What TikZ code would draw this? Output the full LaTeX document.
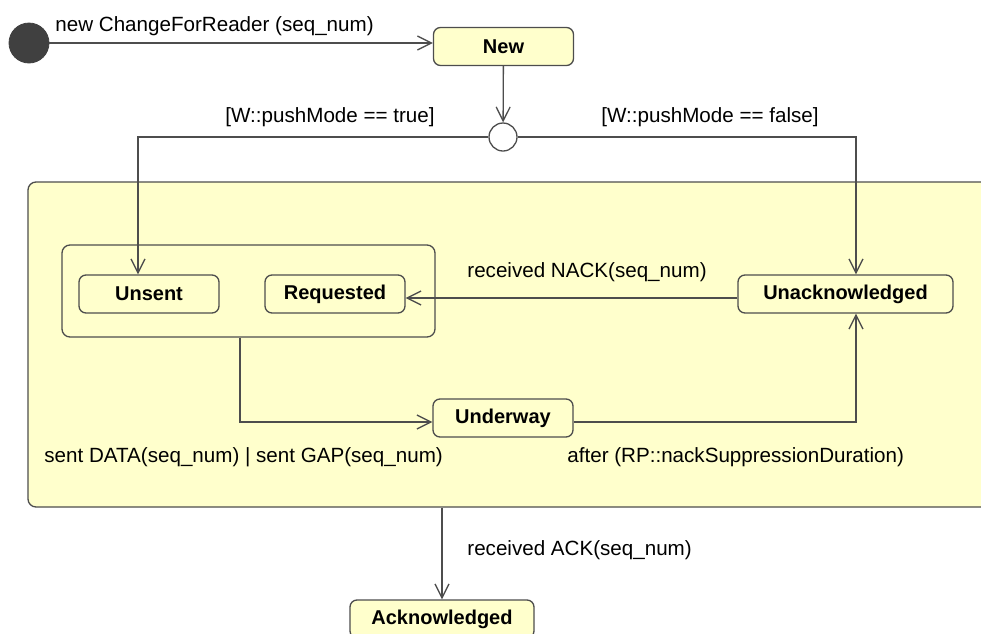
\documentclass[tikz,border=0pt]{standalone}
\usepackage{fontspec}
\setmainfont{Liberation Sans}
\usepackage{xcolor}
\definecolor{statefill}{RGB}{255,255,204}
\definecolor{edgegray}{RGB}{77,77,77}
\definecolor{initgray}{RGB}{64,64,64}
\usetikzlibrary{arrows.meta}
\tikzset{
  state/.style={draw=edgegray, line width=0.65pt, fill=statefill, rounded corners=3.5pt,
    minimum width=70pt, minimum height=19pt, inner sep=0pt, font=\bfseries},
  region/.style={draw=edgegray, line width=0.65pt, fill=statefill, rounded corners=4pt, inner sep=0pt},
  initial/.style={circle, draw=initgray, fill=initgray, minimum size=20pt, inner sep=0pt},
  choice/.style={circle, draw=edgegray, line width=0.65pt, fill=white, minimum size=14pt, inner sep=0pt},
  trans/.style={draw=edgegray, line width=0.65pt, -{Straight Barb[length=7pt,width=7pt]}},
  trigger/.style={inner sep=0pt}
}

\begin{document}
\begin{tikzpicture}[x=0.5pt, y=-0.5pt, font=\fontsize{10.3}{12}\selectfont]
    \clip (0,0) rectangle (981,633);
    % composite states
    \node[region, minimum width=491pt, minimum height=162.5pt] (active) at (519,344.5) {};
    \node[region, minimum width=186.5pt, minimum height=46pt] (queued) at (248.5,291) {};
    % states
    \node[initial] (init) at (29,43) {};
    \node[state] (new) at (503.5,46.5) {New};
    \node[choice] (pushmode) at (503,137) {};
    \node[state] (unsent) at (149,294) {Unsent};
    \node[state] (requested) at (335,294) {Requested};
    \node[state, minimum width=107.5pt] (unack) at (845.5,294) {Unacknowledged};
    \node[state] (underway) at (503,418) {Underway};
    \node[state, minimum width=92pt] (acked) at (442,619) {Acknowledged};
    % transitions
    \draw[trans] (init) -- (init -| new.west);
    \draw[trans] (new) -- (pushmode);
    \draw[trans] (pushmode.west) -| ([xshift=-5.5pt]unsent.north);
    \draw[trans] (pushmode.east) -| ([xshift=5.25pt]unack.north);
    \draw[trans] ([yshift=-2pt]unack.west) -- ([yshift=-2pt]requested.east);
    \draw[trans] ([xshift=-4.25pt]queued.south) |- ([yshift=-2pt]underway.west);
    \draw[trans] ([yshift=-2pt]underway.east) -| ([xshift=5.25pt]unack.south);
    \draw[trans] (active.south -| acked.north) -- (acked.north);
    % triggers and guards
    \node[trigger, anchor=base west] (lnew) at (55,31) {new ChangeForReader (seq\_num)};
    \node[trigger, anchor=base east] (ltrue) at (435,122) {[W::pushMode == true]};
    \node[trigger, anchor=base west] (lfalse) at (601,122) {[W::pushMode == false]};
    \node[trigger, anchor=base west] (lnack) at (467,277) {received NACK(seq\_num)};
    \node[trigger, anchor=base west] (lsent) at (44,462) {sent DATA(seq\_num) | sent GAP(seq\_num)};
    \node[trigger, anchor=base west] (lafter) at (567,462) {after (RP::nackSuppressionDuration)};
    \node[trigger, anchor=base west] (lack) at (467,555) {received ACK(seq\_num)};
\end{tikzpicture}
\end{document}
